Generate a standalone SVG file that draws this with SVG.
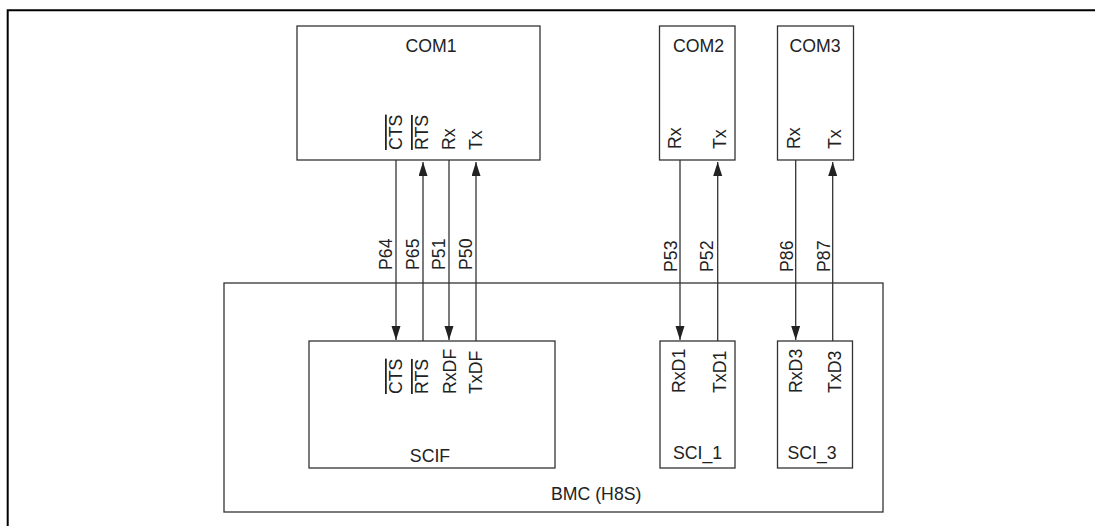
<svg xmlns="http://www.w3.org/2000/svg" width="1095" height="526" viewBox="0 0 1095 526">
<defs>
<style>
.t{font-family:"Liberation Sans",Arial,sans-serif;font-size:17.7px;fill:#222}
.box{fill:none;stroke:#333;stroke-width:1.3}
.w{stroke:#333;stroke-width:1.3;fill:none}
.ol{text-decoration:overline}
</style>
<marker id="ah" markerUnits="userSpaceOnUse" markerWidth="15" markerHeight="10" refX="14" refY="4.5" orient="auto">
<path d="M0,0 L14,4.5 L0,9 z" fill="#222"/>
</marker>
</defs>
<rect width="1095" height="526" fill="#fff"/>
<path d="M7.7,526 V10.3 H1095" fill="none" stroke="#000" stroke-width="2"/>

<g id="bmc">
<rect class="box" x="224" y="283" width="659" height="229" stroke="#444"/>
<text class="t" x="551" y="500">BMC (H8S)</text>
</g>

<g id="com1">
<rect class="box" x="297" y="26" width="243" height="134"/>
<text class="t" x="431" y="52" text-anchor="middle">COM1</text>
<text class="t ol" transform="translate(402,150) rotate(-90)">CTS</text>
<text class="t ol" transform="translate(428,150) rotate(-90)">RTS</text>
<text class="t" transform="translate(455,150) rotate(-90)">Rx</text>
<text class="t" transform="translate(481.5,150) rotate(-90)">Tx</text>
</g>

<g id="com2">
<rect class="box" x="659.5" y="26" width="75.5" height="134"/>
<text class="t" x="698.5" y="52" text-anchor="middle">COM2</text>
<text class="t" transform="translate(681,149) rotate(-90)">Rx</text>
<text class="t" transform="translate(725.5,149) rotate(-90)">Tx</text>
</g>

<g id="com3">
<rect class="box" x="777.5" y="26" width="76" height="134"/>
<text class="t" x="815" y="52" text-anchor="middle">COM3</text>
<text class="t" transform="translate(800,149) rotate(-90)">Rx</text>
<text class="t" transform="translate(841,149) rotate(-90)">Tx</text>
</g>

<g id="scif">
<rect class="box" x="309" y="341" width="246" height="127"/>
<text class="t" x="430" y="461.5" text-anchor="middle">SCIF</text>
<text class="t ol" transform="translate(402,394) rotate(-90)">CTS</text>
<text class="t ol" transform="translate(428,394) rotate(-90)">RTS</text>
<text class="t" transform="translate(455.5,394) rotate(-90)">RxDF</text>
<text class="t" transform="translate(482,394) rotate(-90)">TxDF</text>
</g>

<g id="sci1">
<rect class="box" x="660" y="341" width="75" height="127"/>
<text class="t" x="697.5" y="459" text-anchor="middle">SCI_1</text>
<text class="t" transform="translate(685,393) rotate(-90)">RxD1</text>
<text class="t" transform="translate(725.5,393) rotate(-90)">TxD1</text>
</g>

<g id="sci3">
<rect class="box" x="777.5" y="341" width="75" height="127"/>
<text class="t" x="812" y="459" text-anchor="middle">SCI_3</text>
<text class="t" transform="translate(802,393) rotate(-90)">RxD3</text>
<text class="t" transform="translate(841,393) rotate(-90)">TxD3</text>
</g>

<g id="connectors">
<line class="w" x1="396" y1="160" x2="396" y2="340" marker-end="url(#ah)"/>
<line class="w" x1="423" y1="341" x2="423" y2="162" marker-end="url(#ah)"/>
<line class="w" x1="449" y1="160" x2="449" y2="340" marker-end="url(#ah)"/>
<line class="w" x1="476" y1="341" x2="476" y2="162" marker-end="url(#ah)"/>
<line class="w" x1="680" y1="160" x2="680" y2="340" marker-end="url(#ah)"/>
<line class="w" x1="717.7" y1="341" x2="717.7" y2="162" marker-end="url(#ah)"/>
<line class="w" x1="795.7" y1="160" x2="795.7" y2="340" marker-end="url(#ah)"/>
<line class="w" x1="832.7" y1="341" x2="832.7" y2="162" marker-end="url(#ah)"/>
<text class="t" transform="translate(392,270) rotate(-90)">P64</text>
<text class="t" transform="translate(419,270) rotate(-90)">P65</text>
<text class="t" transform="translate(445,270) rotate(-90)">P51</text>
<text class="t" transform="translate(471.5,270) rotate(-90)">P50</text>
<text class="t" transform="translate(676.5,272) rotate(-90)">P53</text>
<text class="t" transform="translate(713,272) rotate(-90)">P52</text>
<text class="t" transform="translate(792.5,272) rotate(-90)">P86</text>
<text class="t" transform="translate(830,272) rotate(-90)">P87</text>
</g>
</svg>
